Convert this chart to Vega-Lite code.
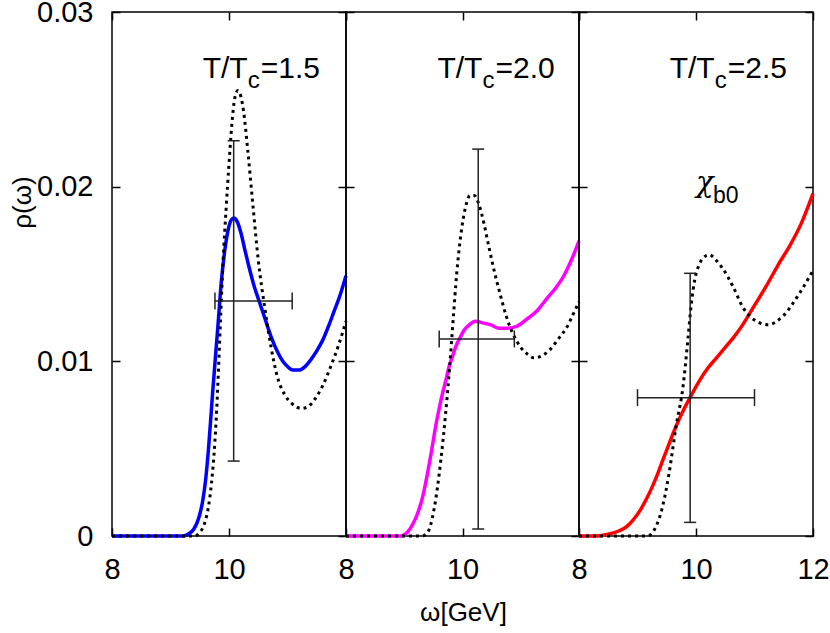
{
  "$schema": "https://vega.github.io/schema/vega-lite/v6.json",
  "padding": {"left": 8, "top": -3, "right": 5, "bottom": 5},
  "background": "white",
  "datasets": {
    "curves": [
      {"panel":1,"kind":"solid","omega":8.0,"rho":0},{"panel":1,"kind":"solid","omega":9.0,"rho":0},{"panel":1,"kind":"solid","omega":9.22,"rho":0},{"panel":1,"kind":"solid","omega":9.3,"rho":0.0001},{"panel":1,"kind":"solid","omega":9.4,"rho":0.0004},{"panel":1,"kind":"solid","omega":9.48,"rho":0.0010},{"panel":1,"kind":"solid","omega":9.55,"rho":0.0020},{"panel":1,"kind":"solid","omega":9.6,"rho":0.0032},{"panel":1,"kind":"solid","omega":9.65,"rho":0.0050},{"panel":1,"kind":"solid","omega":9.72,"rho":0.0082},{"panel":1,"kind":"solid","omega":9.81,"rho":0.0120},{"panel":1,"kind":"solid","omega":9.87,"rho":0.0146},{"panel":1,"kind":"solid","omega":9.93,"rho":0.0164},{"panel":1,"kind":"solid","omega":9.99,"rho":0.0176},{"panel":1,"kind":"solid","omega":10.04,"rho":0.0181},{"panel":1,"kind":"solid","omega":10.08,"rho":0.0182},{"panel":1,"kind":"solid","omega":10.14,"rho":0.0180},{"panel":1,"kind":"solid","omega":10.2,"rho":0.0174},{"panel":1,"kind":"solid","omega":10.27,"rho":0.0164},{"panel":1,"kind":"solid","omega":10.35,"rho":0.0153},{"panel":1,"kind":"solid","omega":10.43,"rho":0.0143},{"panel":1,"kind":"solid","omega":10.52,"rho":0.0134},{"panel":1,"kind":"solid","omega":10.62,"rho":0.0124},{"panel":1,"kind":"solid","omega":10.72,"rho":0.0114},{"panel":1,"kind":"solid","omega":10.82,"rho":0.0106},{"panel":1,"kind":"solid","omega":10.92,"rho":0.0100},{"panel":1,"kind":"solid","omega":11.0,"rho":0.0097},{"panel":1,"kind":"solid","omega":11.09,"rho":0.0095},{"panel":1,"kind":"solid","omega":11.2,"rho":0.0095},{"panel":1,"kind":"solid","omega":11.3,"rho":0.0097},{"panel":1,"kind":"solid","omega":11.4,"rho":0.0101},{"panel":1,"kind":"solid","omega":11.5,"rho":0.0106},{"panel":1,"kind":"solid","omega":11.6,"rho":0.0112},{"panel":1,"kind":"solid","omega":11.7,"rho":0.0120},{"panel":1,"kind":"solid","omega":11.8,"rho":0.0129},{"panel":1,"kind":"solid","omega":11.9,"rho":0.0138},{"panel":1,"kind":"solid","omega":12.0,"rho":0.0149},
      {"panel":1,"kind":"dotted","omega":8.0,"rho":0},{"panel":1,"kind":"dotted","omega":9.41,"rho":0},{"panel":1,"kind":"dotted","omega":9.5,"rho":0.0002},{"panel":1,"kind":"dotted","omega":9.58,"rho":0.0007},{"panel":1,"kind":"dotted","omega":9.65,"rho":0.0017},{"panel":1,"kind":"dotted","omega":9.7,"rho":0.0030},{"panel":1,"kind":"dotted","omega":9.74,"rho":0.0045},{"panel":1,"kind":"dotted","omega":9.78,"rho":0.0066},{"panel":1,"kind":"dotted","omega":9.82,"rho":0.0095},{"panel":1,"kind":"dotted","omega":9.86,"rho":0.0128},{"panel":1,"kind":"dotted","omega":9.9,"rho":0.0158},{"panel":1,"kind":"dotted","omega":9.95,"rho":0.0187},{"panel":1,"kind":"dotted","omega":10.0,"rho":0.0213},{"panel":1,"kind":"dotted","omega":10.05,"rho":0.0236},{"panel":1,"kind":"dotted","omega":10.1,"rho":0.0251},{"panel":1,"kind":"dotted","omega":10.15,"rho":0.0255},{"panel":1,"kind":"dotted","omega":10.2,"rho":0.0252},{"panel":1,"kind":"dotted","omega":10.25,"rho":0.0243},{"panel":1,"kind":"dotted","omega":10.32,"rho":0.0221},{"panel":1,"kind":"dotted","omega":10.41,"rho":0.0189},{"panel":1,"kind":"dotted","omega":10.5,"rho":0.0158},{"panel":1,"kind":"dotted","omega":10.61,"rho":0.0131},{"panel":1,"kind":"dotted","omega":10.72,"rho":0.0108},{"panel":1,"kind":"dotted","omega":10.82,"rho":0.0092},{"panel":1,"kind":"dotted","omega":10.95,"rho":0.0081},{"panel":1,"kind":"dotted","omega":11.07,"rho":0.0076},{"panel":1,"kind":"dotted","omega":11.24,"rho":0.0073},{"panel":1,"kind":"dotted","omega":11.35,"rho":0.0074},{"panel":1,"kind":"dotted","omega":11.46,"rho":0.0078},{"panel":1,"kind":"dotted","omega":11.6,"rho":0.0086},{"panel":1,"kind":"dotted","omega":11.75,"rho":0.0098},{"panel":1,"kind":"dotted","omega":11.88,"rho":0.0110},{"panel":1,"kind":"dotted","omega":12.0,"rho":0.0123},
      {"panel":2,"kind":"solid","omega":8.0,"rho":0},{"panel":2,"kind":"solid","omega":8.95,"rho":0},{"panel":2,"kind":"solid","omega":9.05,"rho":0.0002},{"panel":2,"kind":"solid","omega":9.15,"rho":0.0007},{"panel":2,"kind":"solid","omega":9.23,"rho":0.0013},{"panel":2,"kind":"solid","omega":9.32,"rho":0.0023},{"panel":2,"kind":"solid","omega":9.4,"rho":0.0036},{"panel":2,"kind":"solid","omega":9.47,"rho":0.0049},{"panel":2,"kind":"solid","omega":9.54,"rho":0.0063},{"panel":2,"kind":"solid","omega":9.6,"rho":0.0073},{"panel":2,"kind":"solid","omega":9.66,"rho":0.0082},{"panel":2,"kind":"solid","omega":9.72,"rho":0.0090},{"panel":2,"kind":"solid","omega":9.77,"rho":0.0097},{"panel":2,"kind":"solid","omega":9.83,"rho":0.0103},{"panel":2,"kind":"solid","omega":9.88,"rho":0.0108},{"panel":2,"kind":"solid","omega":9.95,"rho":0.0113},{"panel":2,"kind":"solid","omega":10.03,"rho":0.0118},{"panel":2,"kind":"solid","omega":10.12,"rho":0.0121},{"panel":2,"kind":"solid","omega":10.22,"rho":0.0123},{"panel":2,"kind":"solid","omega":10.35,"rho":0.0122},{"panel":2,"kind":"solid","omega":10.48,"rho":0.0121},{"panel":2,"kind":"solid","omega":10.62,"rho":0.0119},{"panel":2,"kind":"solid","omega":10.77,"rho":0.0119},{"panel":2,"kind":"solid","omega":10.93,"rho":0.0120},{"panel":2,"kind":"solid","omega":11.1,"rho":0.0124},{"panel":2,"kind":"solid","omega":11.28,"rho":0.0129},{"panel":2,"kind":"solid","omega":11.45,"rho":0.0136},{"panel":2,"kind":"solid","omega":11.6,"rho":0.0142},{"panel":2,"kind":"solid","omega":11.74,"rho":0.0149},{"panel":2,"kind":"solid","omega":11.87,"rho":0.0158},{"panel":2,"kind":"solid","omega":12.0,"rho":0.0169},
      {"panel":2,"kind":"dotted","omega":8.0,"rho":0},{"panel":2,"kind":"dotted","omega":9.06,"rho":0},{"panel":2,"kind":"dotted","omega":9.3,"rho":0},{"panel":2,"kind":"dotted","omega":9.4,"rho":0.0002},{"panel":2,"kind":"dotted","omega":9.51,"rho":0.0015},{"panel":2,"kind":"dotted","omega":9.63,"rho":0.0044},{"panel":2,"kind":"dotted","omega":9.71,"rho":0.0070},{"panel":2,"kind":"dotted","omega":9.78,"rho":0.0097},{"panel":2,"kind":"dotted","omega":9.84,"rho":0.0124},{"panel":2,"kind":"dotted","omega":9.9,"rho":0.0150},{"panel":2,"kind":"dotted","omega":9.97,"rho":0.0172},{"panel":2,"kind":"dotted","omega":10.05,"rho":0.0188},{"panel":2,"kind":"dotted","omega":10.13,"rho":0.0195},{"panel":2,"kind":"dotted","omega":10.2,"rho":0.0195},{"panel":2,"kind":"dotted","omega":10.27,"rho":0.0191},{"panel":2,"kind":"dotted","omega":10.34,"rho":0.0183},{"panel":2,"kind":"dotted","omega":10.45,"rho":0.0166},{"panel":2,"kind":"dotted","omega":10.55,"rho":0.0151},{"panel":2,"kind":"dotted","omega":10.65,"rho":0.0138},{"panel":2,"kind":"dotted","omega":10.75,"rho":0.0126},{"panel":2,"kind":"dotted","omega":10.85,"rho":0.0117},{"panel":2,"kind":"dotted","omega":11.0,"rho":0.0108},{"panel":2,"kind":"dotted","omega":11.12,"rho":0.0104},{"panel":2,"kind":"dotted","omega":11.22,"rho":0.0102},{"panel":2,"kind":"dotted","omega":11.35,"rho":0.0103},{"panel":2,"kind":"dotted","omega":11.51,"rho":0.0107},{"panel":2,"kind":"dotted","omega":11.65,"rho":0.0113},{"panel":2,"kind":"dotted","omega":11.8,"rho":0.0120},{"panel":2,"kind":"dotted","omega":11.9,"rho":0.0127},{"panel":2,"kind":"dotted","omega":12.0,"rho":0.0134},
      {"panel":3,"kind":"solid","omega":8.0,"rho":0},{"panel":3,"kind":"solid","omega":8.3,"rho":0},{"panel":3,"kind":"solid","omega":8.5,"rho":0.0001},{"panel":3,"kind":"solid","omega":8.69,"rho":0.0003},{"panel":3,"kind":"solid","omega":8.8,"rho":0.0005},{"panel":3,"kind":"solid","omega":8.92,"rho":0.0009},{"panel":3,"kind":"solid","omega":9.05,"rho":0.0015},{"panel":3,"kind":"solid","omega":9.15,"rho":0.0021},{"panel":3,"kind":"solid","omega":9.25,"rho":0.0028},{"panel":3,"kind":"solid","omega":9.35,"rho":0.0036},{"panel":3,"kind":"solid","omega":9.45,"rho":0.0045},{"panel":3,"kind":"solid","omega":9.52,"rho":0.0051},{"panel":3,"kind":"solid","omega":9.6,"rho":0.0058},{"panel":3,"kind":"solid","omega":9.7,"rho":0.0066},{"panel":3,"kind":"solid","omega":9.8,"rho":0.0073},{"panel":3,"kind":"solid","omega":9.91,"rho":0.0080},{"panel":3,"kind":"solid","omega":10.06,"rho":0.0089},{"panel":3,"kind":"solid","omega":10.2,"rho":0.0096},{"panel":3,"kind":"solid","omega":10.35,"rho":0.0102},{"panel":3,"kind":"solid","omega":10.5,"rho":0.0108},{"panel":3,"kind":"solid","omega":10.65,"rho":0.0114},{"panel":3,"kind":"solid","omega":10.8,"rho":0.0121},{"panel":3,"kind":"solid","omega":11.0,"rho":0.0132},{"panel":3,"kind":"solid","omega":11.2,"rho":0.0143},{"panel":3,"kind":"solid","omega":11.4,"rho":0.0155},{"panel":3,"kind":"solid","omega":11.6,"rho":0.0166},{"panel":3,"kind":"solid","omega":11.8,"rho":0.0179},{"panel":3,"kind":"solid","omega":12.0,"rho":0.0196},
      {"panel":3,"kind":"dotted","omega":8.0,"rho":0},{"panel":3,"kind":"dotted","omega":9.17,"rho":0},{"panel":3,"kind":"dotted","omega":9.31,"rho":0.0005},{"panel":3,"kind":"dotted","omega":9.43,"rho":0.0017},{"panel":3,"kind":"dotted","omega":9.54,"rho":0.0036},{"panel":3,"kind":"dotted","omega":9.66,"rho":0.0063},{"panel":3,"kind":"dotted","omega":9.78,"rho":0.0086},{"panel":3,"kind":"dotted","omega":9.86,"rho":0.0112},{"panel":3,"kind":"dotted","omega":9.92,"rho":0.0133},{"panel":3,"kind":"dotted","omega":9.98,"rho":0.0147},{"panel":3,"kind":"dotted","omega":10.05,"rho":0.0155},{"panel":3,"kind":"dotted","omega":10.12,"rho":0.0159},{"panel":3,"kind":"dotted","omega":10.23,"rho":0.0161},{"panel":3,"kind":"dotted","omega":10.34,"rho":0.0158},{"panel":3,"kind":"dotted","omega":10.46,"rho":0.0153},{"panel":3,"kind":"dotted","omega":10.63,"rho":0.0143},{"panel":3,"kind":"dotted","omega":10.8,"rho":0.0131},{"panel":3,"kind":"dotted","omega":11.03,"rho":0.0123},{"panel":3,"kind":"dotted","omega":11.23,"rho":0.0121},{"panel":3,"kind":"dotted","omega":11.49,"rho":0.0126},{"panel":3,"kind":"dotted","omega":11.77,"rho":0.0139},{"panel":3,"kind":"dotted","omega":12.0,"rho":0.0152}
    ],
    "errbars": [
      {"panel":1,"seg":"v","omega":10.08,"rho":0.00429},{"panel":1,"seg":"v","omega":10.08,"rho":0.02263},
      {"panel":1,"seg":"h","omega":9.76,"rho":0.01345},{"panel":1,"seg":"h","omega":11.08,"rho":0.01345},
      {"panel":2,"seg":"v","omega":10.27,"rho":0.0004},{"panel":2,"seg":"v","omega":10.27,"rho":0.02215},
      {"panel":2,"seg":"h","omega":9.6,"rho":0.01128},{"panel":2,"seg":"h","omega":10.89,"rho":0.01128},
      {"panel":3,"seg":"v","omega":9.9,"rho":0.00078},{"panel":3,"seg":"v","omega":9.9,"rho":0.01504},
      {"panel":3,"seg":"h","omega":9.0,"rho":0.00792},{"panel":3,"seg":"h","omega":11.0,"rho":0.00792}
    ],
    "labels": [
      {"panel":1,"kind":"T","omega":9.55,"rho":0.02622,"main":"T/T","sub":"c","rest":"=1.5"},
      {"panel":2,"kind":"T","omega":9.57,"rho":0.02622,"main":"T/T","sub":"c","rest":"=2.0"},
      {"panel":3,"kind":"T","omega":9.55,"rho":0.02622,"main":"T/T","sub":"c","rest":"=2.5"},
      {"panel":3,"kind":"chi","omega":10.0,"rho":0.01969,"main":"χ","sub":"b0","rest":""}
    ]
  },
  "spacing": 0,
  "bounds": "flush",
  "hconcat": [
    {
      "width": 234, "height": 524,
      "resolve": {"scale": {"x": "independent", "y": "independent"}},
      "layer": [
        {
          "encoding": {
            "x": {"field": "omega", "type": "quantitative", "scale": {"domain": [8, 12], "nice": false, "zero": false},
                  "axis": {"orient": "bottom", "values": [8, 10], "format": "d", "title": null}},
            "y": {"field": "rho", "type": "quantitative", "scale": {"domain": [0, 0.03], "nice": false},
                  "axis": {"orient": "left", "values": [0, 0.01, 0.02, 0.03], "labelExpr": "datum.value == 0 ? '0' : format(datum.value, '.2f')",
                           "title": "ρ(ω)", "titleX": -90, "titleY": 190, "titleAngle": -90, "titleAlign": "center", "titleBaseline": "middle"}}
          },
          "layer": [
            {"data": {"name": "curves"}, "transform": [{"filter": "datum.panel == 1 && datum.kind == 'solid'"}],
             "mark": {"type": "line", "color": "#0000ff", "strokeWidth": 3.5, "interpolate": "monotone"}},
            {"data": {"name": "curves"}, "transform": [{"filter": "datum.panel == 1 && datum.kind == 'dotted'"}],
             "mark": {"type": "line", "color": "#000000", "strokeWidth": 3, "strokeDash": [3, 4], "interpolate": "monotone"}},
            {"data": {"name": "errbars"}, "transform": [{"filter": "datum.panel == 1"}],
             "mark": {"type": "line", "color": "#222222", "strokeWidth": 1.5},
             "encoding": {"detail": {"field": "seg"}}},
            {"data": {"name": "errbars"}, "transform": [{"filter": "datum.panel == 1 && datum.seg == 'v'"}],
             "mark": {"type": "tick", "orient": "horizontal", "size": 12, "thickness": 1.5, "color": "#222222", "opacity": 1}},
            {"data": {"name": "errbars"}, "transform": [{"filter": "datum.panel == 1 && datum.seg == 'h'"}],
             "mark": {"type": "tick", "orient": "vertical", "size": 17, "thickness": 1.5, "color": "#222222", "opacity": 1}},
            {"data": {"name": "labels"}, "transform": [{"filter": "datum.panel == 1"}],
             "mark": {"type": "text", "align": "left", "baseline": "alphabetic", "fontSize": 30, "color": "black"},
             "encoding": {"text": {"field": "main"}}},
            {"data": {"name": "labels"}, "transform": [{"filter": "datum.panel == 1 && datum.kind == 'T'"}],
             "mark": {"type": "text", "align": "left", "baseline": "alphabetic", "fontSize": 24, "dx": 45, "dy": 10, "color": "black"},
             "encoding": {"text": {"field": "sub"}}},
            {"data": {"name": "labels"}, "transform": [{"filter": "datum.panel == 1 && datum.kind == 'T'"}],
             "mark": {"type": "text", "align": "left", "baseline": "alphabetic", "fontSize": 30, "dx": 58, "color": "black"},
             "encoding": {"text": {"field": "rest"}}}
          ]
        },
        {"data": {"name": "curves"}, "transform": [{"filter": "datum.panel == 1"}],
         "mark": {"type": "line", "opacity": 0},
         "encoding": {
           "x": {"field": "omega", "type": "quantitative", "scale": {"domain": [8, 12], "nice": false, "zero": false},
                 "axis": {"orient": "top", "values": [8, 10, 12], "labels": false, "title": null}},
           "y": {"field": "rho", "type": "quantitative", "scale": {"domain": [0, 0.03], "nice": false},
                 "axis": {"orient": "right", "values": [0, 0.01, 0.02, 0.03], "labels": false, "title": null}}
         }}
      ]
    },
    {
      "width": 233, "height": 524,
      "resolve": {"scale": {"x": "independent", "y": "independent"}},
      "layer": [
        {
          "encoding": {
            "x": {"field": "omega", "type": "quantitative", "scale": {"domain": [8, 12], "nice": false, "zero": false},
                  "axis": {"orient": "bottom", "values": [8, 10], "format": "d", "title": "ω[GeV]", "titleX": 117, "titleY": 84, "titleAlign": "center", "titleBaseline": "alphabetic"}},
            "y": {"field": "rho", "type": "quantitative", "scale": {"domain": [0, 0.03], "nice": false},
                  "axis": {"orient": "left", "values": [0, 0.01, 0.02, 0.03], "labels": false, "title": null}}
          },
          "layer": [
            {"data": {"name": "curves"}, "transform": [{"filter": "datum.panel == 2 && datum.kind == 'solid'"}],
             "mark": {"type": "line", "color": "#ff00ff", "strokeWidth": 3.5, "interpolate": "monotone"}},
            {"data": {"name": "curves"}, "transform": [{"filter": "datum.panel == 2 && datum.kind == 'dotted'"}],
             "mark": {"type": "line", "color": "#000000", "strokeWidth": 3, "strokeDash": [3, 4], "interpolate": "monotone"}},
            {"data": {"name": "errbars"}, "transform": [{"filter": "datum.panel == 2"}],
             "mark": {"type": "line", "color": "#222222", "strokeWidth": 1.5},
             "encoding": {"detail": {"field": "seg"}}},
            {"data": {"name": "errbars"}, "transform": [{"filter": "datum.panel == 2 && datum.seg == 'v'"}],
             "mark": {"type": "tick", "orient": "horizontal", "size": 12, "thickness": 1.5, "color": "#222222", "opacity": 1}},
            {"data": {"name": "errbars"}, "transform": [{"filter": "datum.panel == 2 && datum.seg == 'h'"}],
             "mark": {"type": "tick", "orient": "vertical", "size": 17, "thickness": 1.5, "color": "#222222", "opacity": 1}},
            {"data": {"name": "labels"}, "transform": [{"filter": "datum.panel == 2"}],
             "mark": {"type": "text", "align": "left", "baseline": "alphabetic", "fontSize": 30, "color": "black"},
             "encoding": {"text": {"field": "main"}}},
            {"data": {"name": "labels"}, "transform": [{"filter": "datum.panel == 2 && datum.kind == 'T'"}],
             "mark": {"type": "text", "align": "left", "baseline": "alphabetic", "fontSize": 24, "dx": 45, "dy": 10, "color": "black"},
             "encoding": {"text": {"field": "sub"}}},
            {"data": {"name": "labels"}, "transform": [{"filter": "datum.panel == 2 && datum.kind == 'T'"}],
             "mark": {"type": "text", "align": "left", "baseline": "alphabetic", "fontSize": 30, "dx": 58, "color": "black"},
             "encoding": {"text": {"field": "rest"}}}
          ]
        },
        {"data": {"name": "curves"}, "transform": [{"filter": "datum.panel == 2"}],
         "mark": {"type": "line", "opacity": 0},
         "encoding": {
           "x": {"field": "omega", "type": "quantitative", "scale": {"domain": [8, 12], "nice": false, "zero": false},
                 "axis": {"orient": "top", "values": [8, 10, 12], "labels": false, "title": null}},
           "y": {"field": "rho", "type": "quantitative", "scale": {"domain": [0, 0.03], "nice": false},
                 "axis": {"orient": "right", "values": [0, 0.01, 0.02, 0.03], "labels": false, "title": null}}
         }}
      ]
    },
    {
      "width": 234, "height": 524,
      "resolve": {"scale": {"x": "independent", "y": "independent"}},
      "layer": [
        {
          "encoding": {
            "x": {"field": "omega", "type": "quantitative", "scale": {"domain": [8, 12], "nice": false, "zero": false},
                  "axis": {"orient": "bottom", "values": [8, 10, 12], "format": "d", "title": null}},
            "y": {"field": "rho", "type": "quantitative", "scale": {"domain": [0, 0.03], "nice": false},
                  "axis": {"orient": "left", "values": [0, 0.01, 0.02, 0.03], "labels": false, "title": null}}
          },
          "layer": [
            {"data": {"name": "curves"}, "transform": [{"filter": "datum.panel == 3 && datum.kind == 'solid'"}],
             "mark": {"type": "line", "color": "#ff0000", "strokeWidth": 3.5, "interpolate": "monotone"}},
            {"data": {"name": "curves"}, "transform": [{"filter": "datum.panel == 3 && datum.kind == 'dotted'"}],
             "mark": {"type": "line", "color": "#000000", "strokeWidth": 3, "strokeDash": [3, 4], "interpolate": "monotone"}},
            {"data": {"name": "errbars"}, "transform": [{"filter": "datum.panel == 3"}],
             "mark": {"type": "line", "color": "#222222", "strokeWidth": 1.5},
             "encoding": {"detail": {"field": "seg"}}},
            {"data": {"name": "errbars"}, "transform": [{"filter": "datum.panel == 3 && datum.seg == 'v'"}],
             "mark": {"type": "tick", "orient": "horizontal", "size": 12, "thickness": 1.5, "color": "#222222", "opacity": 1}},
            {"data": {"name": "errbars"}, "transform": [{"filter": "datum.panel == 3 && datum.seg == 'h'"}],
             "mark": {"type": "tick", "orient": "vertical", "size": 17, "thickness": 1.5, "color": "#222222", "opacity": 1}},
            {"data": {"name": "labels"}, "transform": [{"filter": "datum.panel == 3 && datum.kind == 'T'"}],
             "mark": {"type": "text", "align": "left", "baseline": "alphabetic", "fontSize": 30, "color": "black"},
             "encoding": {"text": {"field": "main"}}},
            {"data": {"name": "labels"}, "transform": [{"filter": "datum.panel == 3 && datum.kind == 'T'"}],
             "mark": {"type": "text", "align": "left", "baseline": "alphabetic", "fontSize": 24, "dx": 45, "dy": 10, "color": "black"},
             "encoding": {"text": {"field": "sub"}}},
            {"data": {"name": "labels"}, "transform": [{"filter": "datum.panel == 3 && datum.kind == 'T'"}],
             "mark": {"type": "text", "align": "left", "baseline": "alphabetic", "fontSize": 30, "dx": 58, "color": "black"},
             "encoding": {"text": {"field": "rest"}}},
            {"data": {"name": "labels"}, "transform": [{"filter": "datum.panel == 3 && datum.kind == 'chi'"}],
             "mark": {"type": "text", "align": "left", "baseline": "alphabetic", "fontSize": 29, "font": "DejaVu Serif", "fontStyle": "italic", "color": "black"},
             "encoding": {"text": {"field": "main"}}},
            {"data": {"name": "labels"}, "transform": [{"filter": "datum.panel == 3 && datum.kind == 'chi'"}],
             "mark": {"type": "text", "align": "left", "baseline": "alphabetic", "fontSize": 23, "dx": 17, "dy": 11, "color": "black"},
             "encoding": {"text": {"field": "sub"}}}
          ]
        },
        {"data": {"name": "curves"}, "transform": [{"filter": "datum.panel == 3"}],
         "mark": {"type": "line", "opacity": 0},
         "encoding": {
           "x": {"field": "omega", "type": "quantitative", "scale": {"domain": [8, 12], "nice": false, "zero": false},
                 "axis": {"orient": "top", "values": [8, 10, 12], "labels": false, "title": null}},
           "y": {"field": "rho", "type": "quantitative", "scale": {"domain": [0, 0.03], "nice": false},
                 "axis": {"orient": "right", "values": [0, 0.01, 0.02, 0.03], "labels": false, "title": null}}
         }}
      ]
    }
  ],
  "config": {
    "font": "Liberation Sans",
    "view": {"stroke": "#000000", "strokeWidth": 1.5},
    "axis": {
      "domain": false, "grid": false, "ticks": true,
      "tickColor": "#000000", "tickWidth": 1.5, "tickSize": -8,
      "labelFont": "Liberation Sans", "labelFontSize": 29, "labelColor": "#000000", "labelPadding": 27,
      "labelFlush": false, "labelOverlap": false,
      "titleFont": "Liberation Sans", "titleFontSize": 26, "titleFontWeight": "normal", "titleColor": "#000000"
    }
  }
}
